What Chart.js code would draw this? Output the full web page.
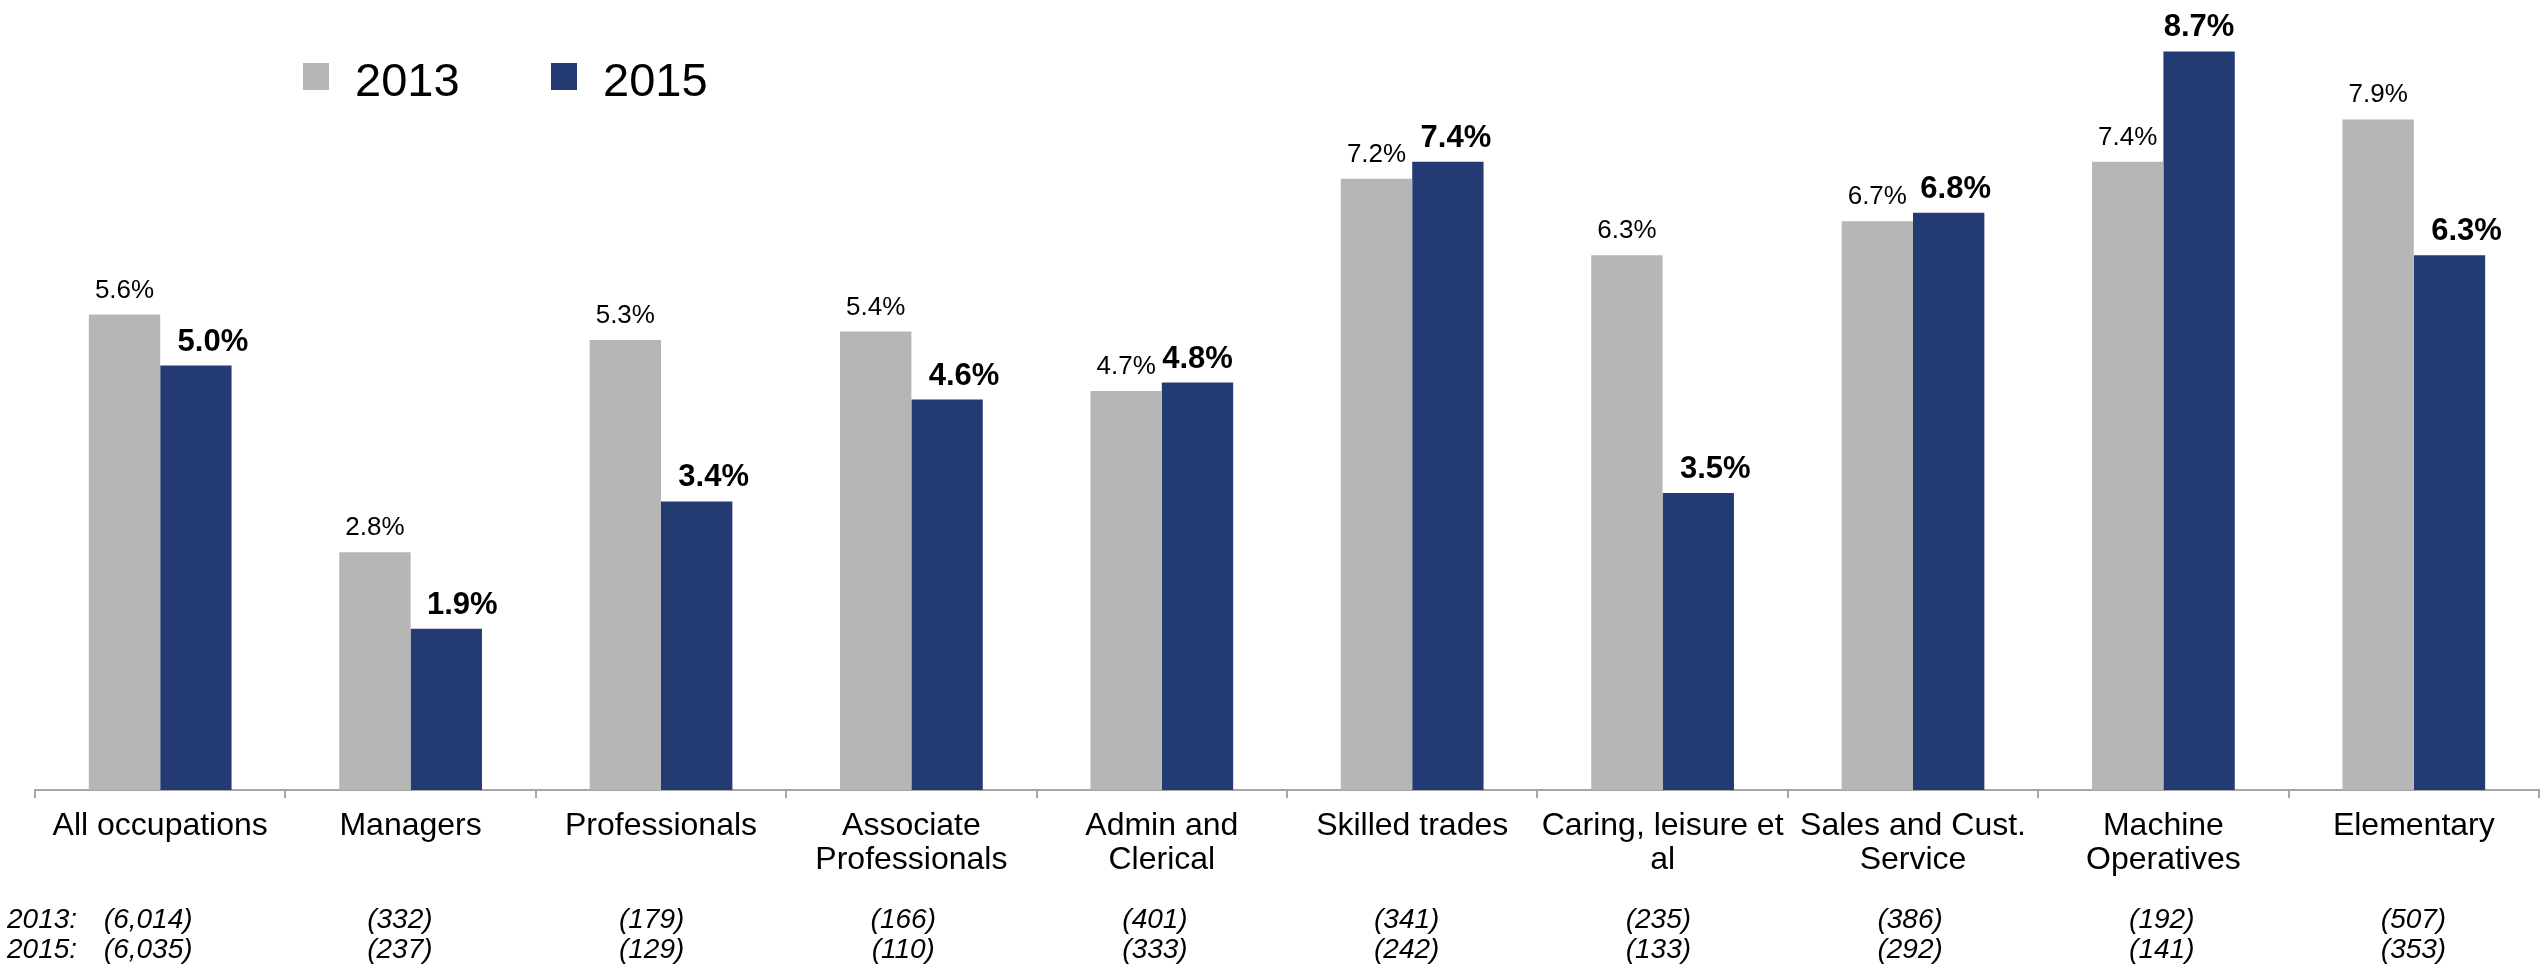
<!DOCTYPE html>
<html>
<head>
<meta charset="utf-8">
<title>Occupations 2013 vs 2015</title>
<script src="https://cdn.jsdelivr.net/npm/chart.js@4/dist/chart.umd.min.js"></script>
<style>
  html, body { margin: 0; padding: 0; background: #fff; }
  canvas { display: block; }
</style>
</head>
<body>
<canvas id="chart" width="2542" height="967"></canvas>
<script>
const categories = [
  'All occupations',
  'Managers',
  'Professionals',
  ['Associate', 'Professionals'],
  ['Admin and', 'Clerical'],
  'Skilled trades',
  ['Caring, leisure et', 'al'],
  ['Sales and Cust.', 'Service'],
  ['Machine', 'Operatives'],
  'Elementary'
];
const years = ['2013', '2015'];
const values2013 = [5.6, 2.8, 5.3, 5.4, 4.7, 7.2, 6.3, 6.7, 7.4, 7.9];
const values2015 = [5.0, 1.9, 3.4, 4.6, 4.8, 7.4, 3.5, 6.8, 8.7, 6.3];
const counts2013 = ['(6,014)', '(332)', '(179)', '(166)', '(401)', '(341)', '(235)', '(386)', '(192)', '(507)'];
const counts2015 = ['(6,035)', '(237)', '(129)', '(110)', '(333)', '(242)', '(133)', '(292)', '(141)', '(353)'];

const FONT = '"Liberation Sans", Arial, Helvetica, sans-serif';
const GREY = '#b6b6b6';
const NAVY = '#243a73';
const AXIS = '#a6a6a6';

// where the bold 2015 label sits right of its bar (it dodges the 2013 label)
const shift2015 = [17, 16, 17, 17, 0, 8, 17, 7, 0, 17];

const valueLabels = {
  id: 'valueLabels',
  afterDatasetsDraw(chart) {
    const ctx = chart.ctx;
    ctx.save();
    ctx.fillStyle = '#000';
    ctx.textAlign = 'center';
    ctx.textBaseline = 'alphabetic';
    chart.data.datasets.forEach((ds, d) => {
      const meta = chart.getDatasetMeta(d);
      meta.data.forEach((bar, i) => {
        const txt = ds.data[i].toFixed(1) + '%';
        if (d === 0) {
          ctx.font = '26px ' + FONT;
          ctx.fillText(txt, bar.x, bar.y - 17);
        } else {
          ctx.font = 'bold 31px ' + FONT;
          ctx.fillText(txt, bar.x + shift2015[i], bar.y - 15);
        }
      });
    });
    ctx.restore();
  }
};

const sampleSizes = {
  id: 'sampleSizes',
  afterDraw(chart) {
    const ctx = chart.ctx;
    const x = chart.scales.x;
    ctx.save();
    ctx.fillStyle = '#000';
    ctx.font = 'italic 28px ' + FONT;
    ctx.textBaseline = 'alphabetic';
    ctx.textAlign = 'left';
    ctx.fillText(years[0] + ':', 7, 928);
    ctx.fillText(years[1] + ':', 7, 958);
    ctx.textAlign = 'center';
    counts2013.forEach((c, i) => {
      const cx = x.getPixelForValue(i) - 12 + i * 1.3;
      ctx.fillText(c, cx, 928);
      ctx.fillText(counts2015[i], cx, 958);
    });
    ctx.restore();
  }
};

const topLegend = {
  id: 'topLegend',
  afterDraw(chart) {
    const ctx = chart.ctx;
    const spots = [303, 551];
    ctx.save();
    ctx.font = '47px ' + FONT;
    ctx.textBaseline = 'alphabetic';
    ctx.textAlign = 'left';
    chart.data.datasets.forEach((ds, d) => {
      ctx.fillStyle = ds.backgroundColor;
      ctx.fillRect(spots[d], 63, 26, 27);
      ctx.fillStyle = '#000';
      ctx.fillText(ds.label, spots[d] + 52, 96);
    });
    ctx.restore();
  }
};

new Chart(document.getElementById('chart'), {
  type: 'bar',
  data: {
    labels: categories,
    datasets: [
      { label: years[0], data: values2013, backgroundColor: GREY, borderWidth: 0 },
      { label: years[1], data: values2015, backgroundColor: NAVY, borderWidth: 0 }
    ]
  },
  options: {
    responsive: false,
    animation: false,
    layout: { padding: { top: 26, left: 35, right: 3, bottom: 0 } },
    datasets: { bar: { categoryPercentage: 0.57, barPercentage: 1.0 } },
    plugins: {
      legend: { display: false },
      tooltip: { enabled: false }
    },
    scales: {
      y: { display: false, min: 0, max: 9 },
      x: {
        afterFit(scale) { scale.height = 177; },
        border: { display: true, color: AXIS, width: 2 },
        grid: {
          display: true,
          offset: true,
          drawOnChartArea: false,
          drawTicks: true,
          tickLength: 8,
          color: AXIS,
          lineWidth: 2
        },
        ticks: {
          color: '#000',
          padding: 11,
          maxRotation: 0,
          autoSkip: false,
          font: { family: FONT, size: 32, lineHeight: 1.06 }
        }
      }
    }
  },
  plugins: [valueLabels, sampleSizes, topLegend]
});
</script>
</body>
</html>
